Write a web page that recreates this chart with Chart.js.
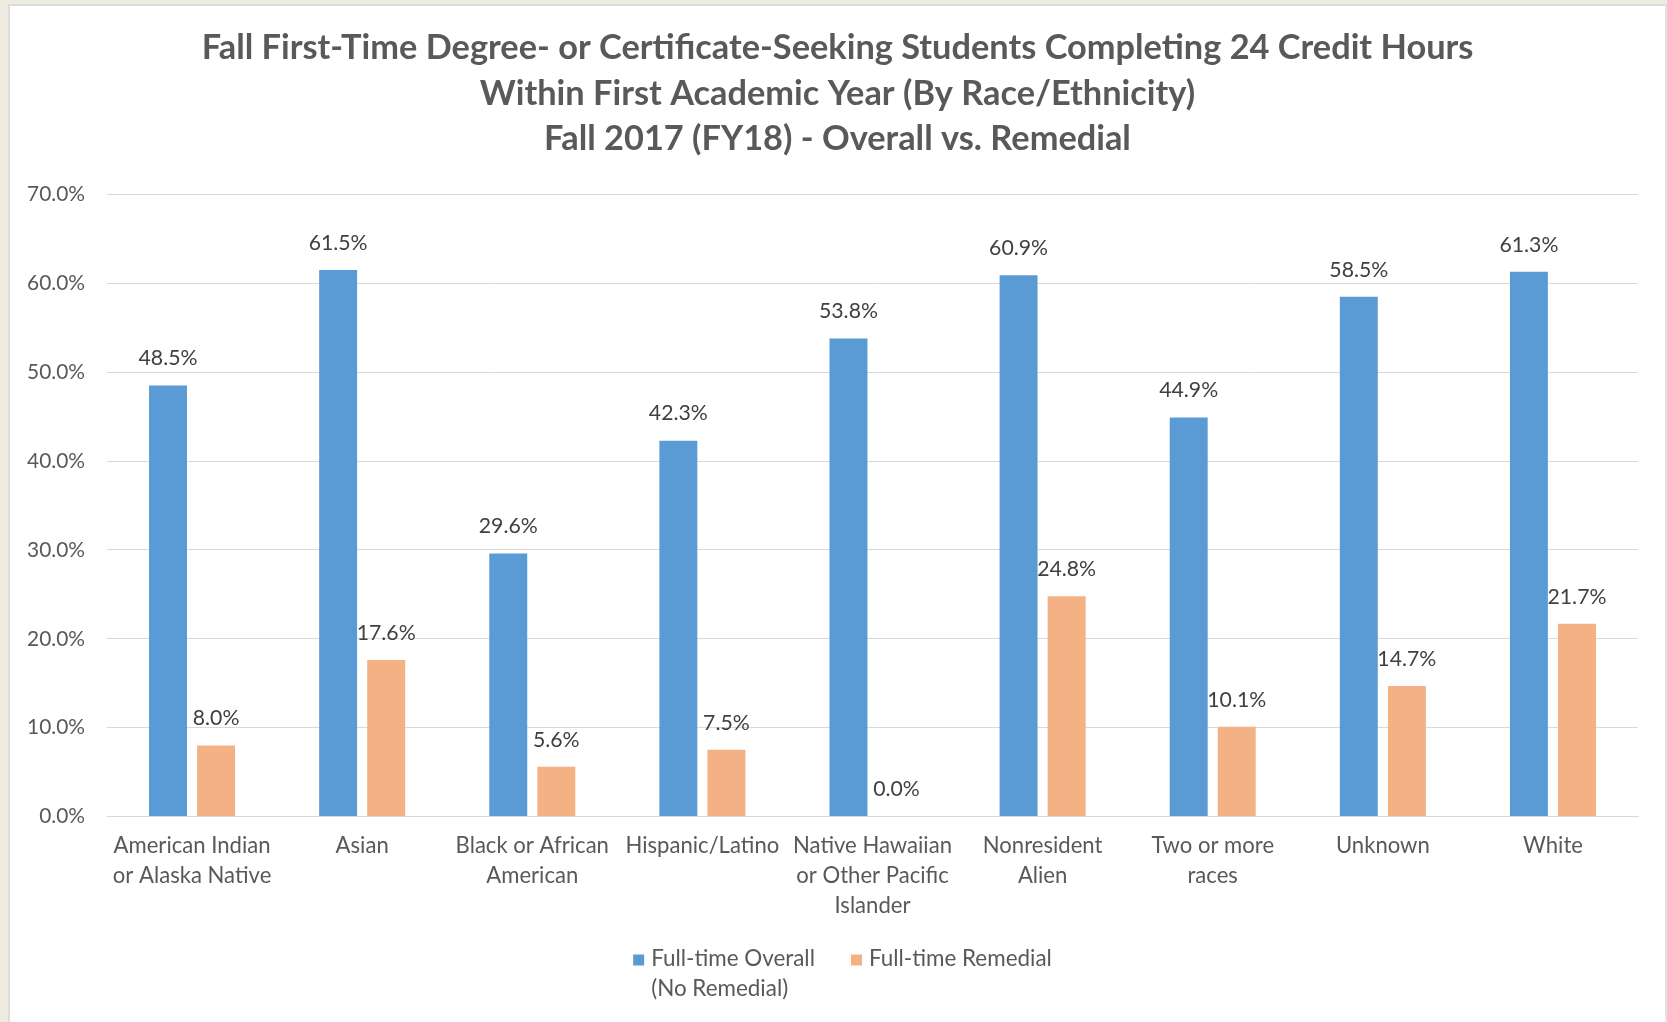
<!DOCTYPE html>
<html>
<head>
<meta charset="utf-8">
<script src="https://cdn.jsdelivr.net/npm/chart.js@4/dist/chart.umd.min.js"></script>
<style>
  html, body { margin: 0; padding: 0; background: #EEECE1; width: 1667px; height: 1022px; overflow: hidden; }
  #frame { position: absolute; left: 8px; top: 4px; width: 1655px; height: 1018px; background: #fff;
           border-left: 2px solid #DCDCDC; border-top: 2px solid #DCDCDC; border-right: 2px solid #E4E4E4; }
  #wrap { position: absolute; left: 0; top: 0; width: 1655px; height: 1016px; }
</style>
</head>
<body>
<div id="frame"><div id="wrap"><canvas id="c"></canvas></div></div>
<script>
// ---- data ----
const categories = [
  ["American Indian", "or Alaska Native"],
  "Asian",
  ["Black or African", "American"],
  "Hispanic/Latino",
  ["Native Hawaiian", "or Other Pacific", "Islander"],
  ["Nonresident", "Alien"],
  ["Two or more", "races"],
  "Unknown",
  "White"
];
const overallValues  = [48.5, 61.5, 29.6, 42.3, 53.8, 60.9, 44.9, 58.5, 61.3];
const remedialValues = [8.0, 17.6, 5.6, 7.5, 0.0, 24.8, 10.1, 14.7, 21.7];
const seriesNames = [["Full-time Overall", "(No Remedial)"], ["Full-time Remedial"]];
const titleLines = [
  "Fall First-Time Degree- or Certificate-Seeking Students Completing 24 Credit Hours",
  "Within First Academic Year (By Race/Ethnicity)",
  "Fall 2017 (FY18) - Overall vs. Remedial"
];
const yTickMin = 0, yTickMax = 70, yTickStep = 10;

// ---- font sizing by measuring ----
const FAMILY = "Lato, 'Open Sans', sans-serif";
const mctx = document.createElement('canvas').getContext('2d');
function fit(text, weight, target) {
  mctx.font = weight + " 100px " + FAMILY;
  return 100 * target / mctx.measureText(text).width;
}
const titleSize = fit(titleLines[0], "bold", 1272);
const tickSize  = fit("70.0%", "normal", 58);
const catSize   = fit("American Indian", "normal", 157);
const dlSize    = fit("48.5%", "normal", 59);
const legSize   = fit("Full-time Remedial", "normal", 183);

// ---- layout targets (canvas px) ----
const plotTop = 188.5, plotBottom = 810.5;
const titleLH = 45.5;
const titlePadTop = 42 - titleLH / 2;
const titlePadBottom = plotTop - titlePadTop - 3 * titleLH;
const xAxisH = 1016 - plotBottom;

const dataLabels = {
  id: 'dataLabels',
  afterDatasetsDraw(chart) {
    const ctx = chart.ctx;
    ctx.save();
    ctx.font = dlSize + "px " + FAMILY;
    ctx.fillStyle = "#404040";
    ctx.textAlign = "center";
    ctx.textBaseline = "middle";
    chart.data.datasets.forEach((ds, di) => {
      const meta = chart.getDatasetMeta(di);
      meta.data.forEach((el, i) => {
        ctx.fillText(ds.data[i].toFixed(1) + "%", el.x, el.y - 27);
      });
    });
    ctx.restore();
  }
};

// legend with wrapped text, drawn centered under the chart
const wrappedLegend = {
  id: 'wrappedLegend',
  afterDraw(chart) {
    const ctx = chart.ctx;
    const box = 11, boxGap = 7, itemGap = 36, lineH = 30, firstY = 953;
    ctx.save();
    ctx.font = legSize + "px " + FAMILY;
    const items = chart.data.datasets.map(ds => {
      const lines = Array.isArray(ds.label) ? ds.label : [ds.label];
      const w = Math.max(...lines.map(l => ctx.measureText(l).width));
      return { lines, w, color: ds.backgroundColor };
    });
    const total = items.reduce((s, it) => s + box + boxGap + it.w, 0) + itemGap * (items.length - 1);
    let x = chart.width / 2 - total / 2 + 5;
    ctx.textAlign = "left";
    ctx.textBaseline = "middle";
    items.forEach(it => {
      ctx.fillStyle = it.color;
      ctx.fillRect(x, firstY - box / 2 + 1, box, box);
      ctx.fillStyle = "#595959";
      it.lines.forEach((l, k) => ctx.fillText(l, x + box + boxGap, firstY + k * lineH));
      x += box + boxGap + it.w + itemGap;
    });
    ctx.restore();
  }
};

new Chart(document.getElementById('c'), {
  type: 'bar',
  data: {
    labels: categories,
    datasets: [
      { label: seriesNames[0], data: overallValues, backgroundColor: '#5B9BD5',
        categoryPercentage: 0.565, barPercentage: 0.79 },
      { label: seriesNames[1], data: remedialValues, backgroundColor: '#F4B183',
        categoryPercentage: 0.565, barPercentage: 0.79 }
    ]
  },
  options: {
    responsive: true,
    maintainAspectRatio: false,
    animation: false,
    layout: { padding: { left: 0, right: 0, top: 0, bottom: 0 } },
    plugins: {
      title: {
        display: true,
        text: titleLines,
        color: '#595959',
        font: { family: FAMILY, size: titleSize, weight: 'bold', lineHeight: titleLH / titleSize },
        padding: { top: titlePadTop, bottom: titlePadBottom }
      },
      legend: { display: false },
      tooltip: { enabled: false }
    },
    scales: {
      x: {
        grid: { display: false, drawTicks: false },
        border: { display: true, color: '#D9D9D9', width: 1 },
        ticks: {
          color: '#595959', padding: 14.5, maxRotation: 0, autoSkip: false,
          font: { family: FAMILY, size: catSize, lineHeight: 30 / catSize }
        },
        afterFit(s) { s.height = xAxisH; }
      },
      y: {
        min: yTickMin, max: yTickMax,
        grid: { color: '#D9D9D9', drawTicks: false },
        border: { display: false },
        ticks: {
          stepSize: yTickStep, color: '#595959', padding: 22,
          font: { family: FAMILY, size: tickSize },
          callback: v => v.toFixed(1) + '%'
        },
        afterFit(s) { s.width = 97; }
      },
      yRight: {
        position: 'right',
        display: true,
        grid: { display: false, drawTicks: false },
        border: { display: false },
        ticks: { display: false },
        afterFit(s) { s.width = 27; }
      }
    }
  },
  plugins: [dataLabels, wrappedLegend]
});
</script>
</body>
</html>
